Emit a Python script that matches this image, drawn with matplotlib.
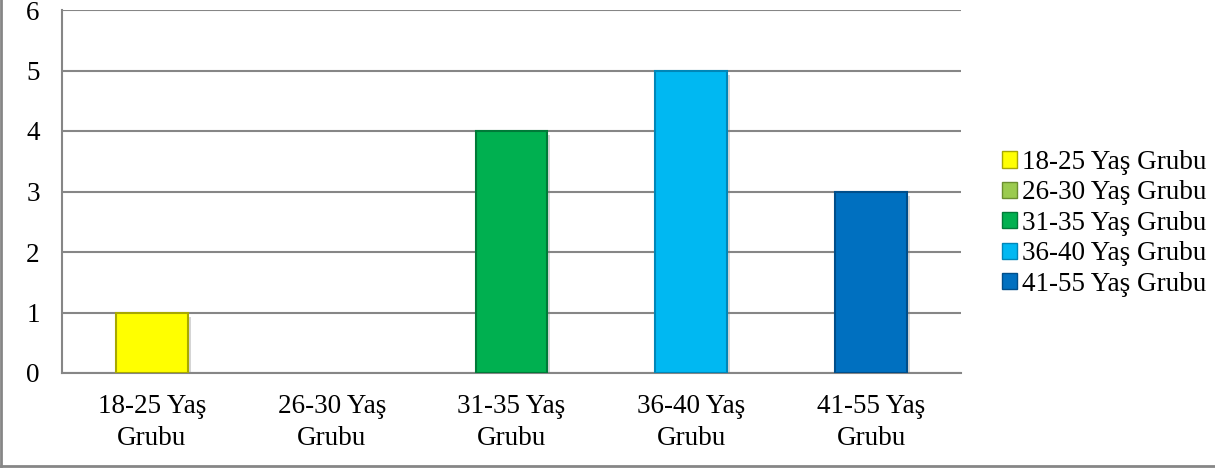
import matplotlib
matplotlib.use("Agg")
import matplotlib.pyplot as plt
import matplotlib.patheffects as pe
from matplotlib.patches import Patch
from matplotlib.lines import Line2D

categories = ["18-25 Yaş\nGrubu", "26-30 Yaş\nGrubu", "31-35 Yaş\nGrubu", "36-40 Yaş\nGrubu", "41-55 Yaş\nGrubu"]
series_names = ["18-25 Yaş Grubu", "26-30 Yaş Grubu", "31-35 Yaş Grubu", "36-40 Yaş Grubu", "41-55 Yaş Grubu"]
values = [1, 0, 4, 5, 3]
face_colors = ["#FFFF00", "#9BCB4F", "#00B050", "#00B8F2", "#0070C0"]
edge_colors = ["#A8A800", "#6B8F30", "#007A38", "#0086B8", "#004E8A"]
yticks = [0, 1, 2, 3, 4, 5, 6]

plt.rcParams["font.family"] = ["Liberation Serif", "DejaVu Serif"]
FS = 19.5

fig = plt.figure(figsize=(12.15, 4.71), dpi=100)
ax = fig.add_axes([62 / 1215, 98 / 471, (961 - 62) / 1215, (373 - 10) / 471])

x = list(range(len(categories)))
for i, (v, fc, ec) in enumerate(zip(values, face_colors, edge_colors)):
    if v > 0:
        ax.bar(x[i], v, width=0.4, color=fc, edgecolor=ec, linewidth=1.5, zorder=3,
               path_effects=[pe.SimplePatchShadow(offset=(2, -3), shadow_rgbFace="#888888", alpha=0.35),
                             pe.Normal()])

ax.set_xlim(-0.5, len(categories) - 0.5)
ax.set_ylim(0, 6)
ax.set_yticks(yticks)
ax.set_yticklabels([str(t) for t in yticks], fontsize=FS)
ax.set_xticks(x)
ax.set_xticklabels(categories, fontsize=FS, linespacing=1.4)
ax.tick_params(axis="both", length=0)
ax.tick_params(axis="y", pad=16)
ax.tick_params(axis="x", pad=15)

ax.grid(axis="y", color="#868686", linewidth=1.5, zorder=0)
ax.set_axisbelow(True)
for s in ["top", "right"]:
    ax.spines[s].set_visible(False)
for s in ["left", "bottom"]:
    ax.spines[s].set_color("#868686")
    ax.spines[s].set_linewidth(1.5)

handles = [Patch(facecolor=fc, edgecolor=ec, linewidth=1) for fc, ec in zip(face_colors, edge_colors)]
leg = fig.legend(handles, series_names, loc="upper left", bbox_to_anchor=(1002 / 1215, 1 - 150 / 471),
                 frameon=False, fontsize=FS, handlelength=0.55, handleheight=0.55,
                 handletextpad=0.2, labelspacing=0.2, borderaxespad=0, borderpad=0)

# outer chart border
fig.add_artist(Line2D([1 / 1215, 1 / 1215], [5 / 471, 1], color="#868686", linewidth=2, transform=fig.transFigure))
fig.add_artist(Line2D([1 / 1215, 1], [5 / 471, 5 / 471], color="#868686", linewidth=2, transform=fig.transFigure))

fig.savefig("out.png", dpi=100)
